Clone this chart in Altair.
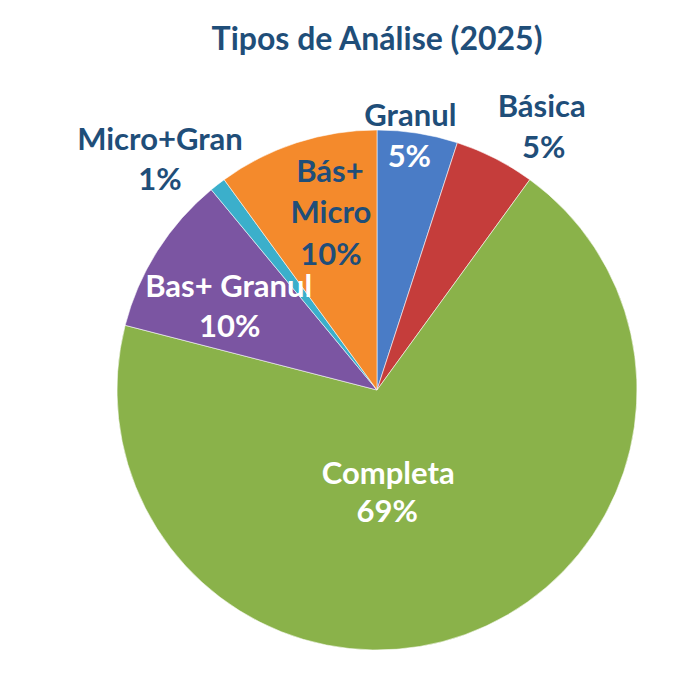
import altair as alt
import pandas as pd

# ---- data ----
categories = ["Granul", "Básica", "Completa", "Bas+ Granul", "Micro+Gran", "Bás+ Micro"]
values = [5, 5, 69, 10, 1, 10]
label_names = ["Granul", "Básica", "Completa", "Bas+ Granul", "Micro+Gran", "Bás+\nMicro"]
colors = ["#4A7CC6", "#C53D3B", "#8AB24A", "#7B55A2", "#3BAFCB", "#F48A2C"]

df = pd.DataFrame({
    "category": categories,
    "value": values,
    "label": label_names,
    "order": list(range(len(categories))),
})

DARK = "#1F4E79"
WHITE = "#FFFFFF"
FONT = "Lato"
R = 260

base = alt.Chart(df)

arc = base.mark_arc(radius=R, stroke="white", strokeWidth=0.8, strokeOpacity=0.7).encode(
    theta=alt.Theta("value:Q", stack=True, scale=alt.Scale(domain=[0, 100])),
    color=alt.Color("category:N", scale=alt.Scale(domain=categories, range=colors), legend=None),
    order=alt.Order("order:Q"),
)

labeled = base.transform_window(
    cum="sum(value)", sort=[alt.SortField("order")], frame=[None, 0]
).transform_calculate(
    mid="datum.cum - datum.value / 2",
    line0="split(datum.label, '\\n')[0]",
    line1="length(split(datum.label, '\\n')) > 1 ? split(datum.label, '\\n')[1] : ''",
    pct="datum.value + '%'",
)

# (category, text field, colour, label radius, dx, dy)
label_specs = [
    ("Granul", "line0", DARK, 245, -5, -22),
    ("Granul", "pct", WHITE, 245, -6, 19),
    ("Básica", "line0", DARK, 290, 33, -15),
    ("Básica", "pct", DARK, 290, 35, 26),
    ("Completa", "line0", WHITE, 110, -26, -9.5),
    ("Completa", "pct", WHITE, 110, -27, 28.5),
    ("Bas+ Granul", "line0", WHITE, 165, -9, -4.6),
    ("Bas+ Granul", "pct", WHITE, 165, -8, 35.4),
    ("Micro+Gran", "line0", DARK, 310, -27, 5),
    ("Micro+Gran", "pct", DARK, 310, -27, 45),
    ("Bás+ Micro", "line0", DARK, 175, 7, -41.6),
    ("Bás+ Micro", "line1", DARK, 175, 8, -0.6),
    ("Bás+ Micro", "pct", DARK, 175, 8, 41.4),
]

texts = []
for cat, field, col, rad, dx, dy in label_specs:
    texts.append(
        labeled.transform_filter(alt.datum.category == cat)
        .mark_text(
            radius=rad, dx=dx, dy=dy, font=FONT, fontSize=31, fontWeight="bold",
            color=col, align="center", baseline="alphabetic",
        )
        .encode(
            theta=alt.Theta("mid:Q", scale=alt.Scale(domain=[0, 100])),
            text=alt.Text(f"{field}:N"),
        )
    )

chart = alt.layer(arc, *texts).properties(
    width=2 * R,
    height=2 * R,
    padding={"left": 109, "top": 122, "right": 33, "bottom": 13},
    autosize=alt.AutoSizeParams(type="none"),
    title=alt.Title(
        "Tipos de Análise (2025)", font=FONT, fontSize=32, fontWeight="bold",
        color=DARK, anchor="middle", offset=10, baseline="alphabetic",
    ),
).configure_view(stroke=None).configure(background="white")

chart.save("out.html", embed_options={"renderer": "svg", "actions": False})
